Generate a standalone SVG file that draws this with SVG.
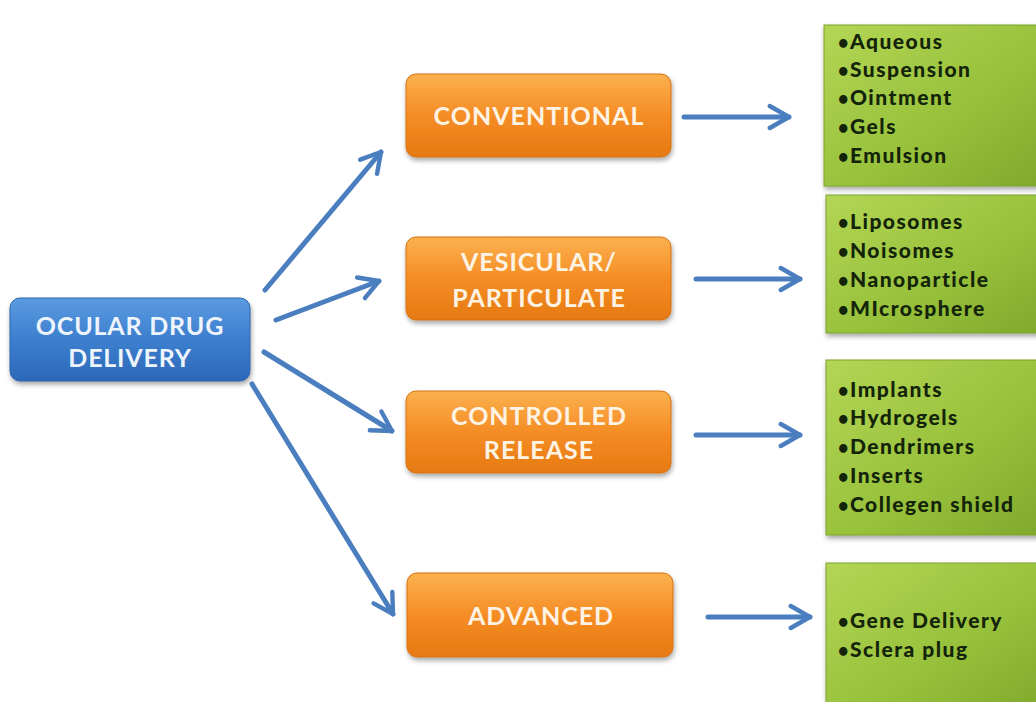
<svg xmlns="http://www.w3.org/2000/svg" width="1036" height="702" viewBox="0 0 1036 702">
<defs>
<linearGradient id="gBlue" x1="0" y1="0" x2="0" y2="1">
<stop offset="0" stop-color="#5b9be0"/><stop offset="0.5" stop-color="#3d7fcf"/><stop offset="1" stop-color="#2c68b8"/>
</linearGradient>
<linearGradient id="gOrange" x1="0" y1="0" x2="0" y2="1">
<stop offset="0" stop-color="#fbb14f"/><stop offset="0.5" stop-color="#f58d25"/><stop offset="1" stop-color="#e67a12"/>
</linearGradient>
<linearGradient id="gGreen" x1="0" y1="0" x2="1" y2="1">
<stop offset="0" stop-color="#b3d655"/><stop offset="0.6" stop-color="#96c03a"/><stop offset="1" stop-color="#80a82c"/>
</linearGradient>
<filter id="sh" x="-10%" y="-10%" width="120%" height="130%">
<feDropShadow dx="1" dy="3" stdDeviation="2.5" flood-color="#000" flood-opacity="0.35"/>
</filter>
<marker id="ah" viewBox="0 0 10 10" refX="8" refY="5" markerWidth="5.5" markerHeight="5.5" markerUnits="strokeWidth" orient="auto">
<path d="M1,1 L8,5 L1,9" fill="none" stroke="#4a7ebf" stroke-width="1.6" stroke-linecap="round" stroke-linejoin="round"/>
</marker>
</defs>
<style>
.blue{fill:url(#gBlue);stroke:#2f63a8;stroke-width:1;filter:url(#sh)}
.orange{fill:url(#gOrange);stroke:#d8700e;stroke-width:1;filter:url(#sh)}
.green{fill:url(#gGreen);stroke:#7ea12d;stroke-width:1;filter:url(#sh)}
.t{font-family:Lato,"Open Sans",sans-serif;font-weight:bold;fill:#fdf3e4;text-anchor:middle;font-size:25px;letter-spacing:1px}
.tb{font-family:Lato,"Open Sans",sans-serif;font-weight:bold;fill:#eef4fb;text-anchor:middle;font-size:25px;letter-spacing:0.8px}
.g{font-family:Lato,"Open Sans",sans-serif;font-weight:900;fill:#14240a;font-size:21px;letter-spacing:1.5px}
.b{font-size:18px}
.c{stroke:#4a7ebf;stroke-width:5;fill:none;stroke-linecap:round;marker-end:url(#ah)}
</style>
<rect width="1036" height="702" fill="#ffffff"/>
<g id="connectors">
<line class="c" x1="265" y1="290" x2="381" y2="152"/>
<line class="c" x1="276" y1="320" x2="379" y2="281"/>
<line class="c" x1="264" y1="352" x2="392" y2="431"/>
<line class="c" x1="252" y1="384" x2="393" y2="614"/>
<line class="c" x1="684" y1="117" x2="789" y2="117"/>
<line class="c" x1="696" y1="279" x2="800" y2="279"/>
<line class="c" x1="696" y1="435" x2="800" y2="435"/>
<line class="c" x1="708" y1="617" x2="810" y2="617"/>
</g>
<g id="ocular">
<rect class="blue" x="10" y="298" width="240" height="83" rx="10"/>
<text class="tb" x="130" y="335">OCULAR DRUG</text>
<text class="tb" x="130" y="367">DELIVERY</text>
</g>
<g id="conventional">
<rect class="orange" x="406" y="74" width="265" height="83" rx="10"/>
<text class="t" x="539" y="125">CONVENTIONAL</text>
</g>
<g id="vesicular">
<rect class="orange" x="406" y="237" width="265" height="83" rx="10"/>
<text class="t" x="539" y="271">VESICULAR/</text>
<text class="t" x="539" y="307">PARTICULATE</text>
</g>
<g id="controlled">
<rect class="orange" x="406" y="391" width="265" height="82" rx="10"/>
<text class="t" x="539" y="425">CONTROLLED</text>
<text class="t" x="539" y="459">RELEASE</text>
</g>
<g id="advanced">
<rect class="orange" x="407" y="573" width="266" height="84" rx="10"/>
<text class="t" x="541" y="625">ADVANCED</text>
</g>
<g id="list1">
<rect class="green" x="824" y="25" width="220" height="161"/>
<text class="g" x="838" y="49"><tspan class="b">•</tspan>Aqueous</text>
<text class="g" x="838" y="77"><tspan class="b">•</tspan>Suspension</text>
<text class="g" x="838" y="105"><tspan class="b">•</tspan>Ointment</text>
<text class="g" x="838" y="134"><tspan class="b">•</tspan>Gels</text>
<text class="g" x="838" y="163"><tspan class="b">•</tspan>Emulsion</text>
</g>
<g id="list2">
<rect class="green" x="826" y="195" width="218" height="138"/>
<text class="g" x="838" y="229"><tspan class="b">•</tspan>Liposomes</text>
<text class="g" x="838" y="258"><tspan class="b">•</tspan>Noisomes</text>
<text class="g" x="838" y="287"><tspan class="b">•</tspan>Nanoparticle</text>
<text class="g" x="838" y="316"><tspan class="b">•</tspan>MIcrosphere</text>
</g>
<g id="list3">
<rect class="green" x="826" y="360" width="218" height="175"/>
<text class="g" x="838" y="397"><tspan class="b">•</tspan>Implants</text>
<text class="g" x="838" y="425"><tspan class="b">•</tspan>Hydrogels</text>
<text class="g" x="838" y="454"><tspan class="b">•</tspan>Dendrimers</text>
<text class="g" x="838" y="483"><tspan class="b">•</tspan>Inserts</text>
<text class="g" x="838" y="512"><tspan class="b">•</tspan>Collegen shield</text>
</g>
<g id="list4">
<rect class="green" x="826" y="563" width="218" height="150"/>
<text class="g" x="838" y="628"><tspan class="b">•</tspan>Gene Delivery</text>
<text class="g" x="838" y="657"><tspan class="b">•</tspan>Sclera plug</text>
</g>
</svg>
